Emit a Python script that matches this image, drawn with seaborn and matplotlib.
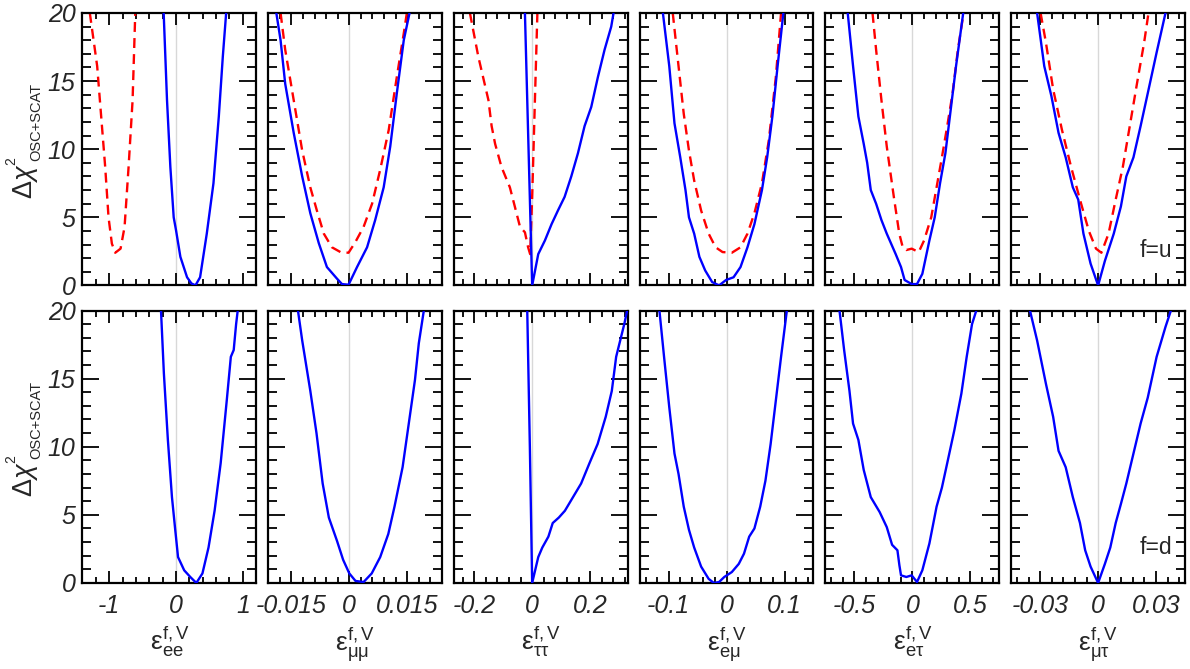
import matplotlib
matplotlib.use("Agg")
import matplotlib.pyplot as plt
import matplotlib.transforms as mtransforms
import seaborn as sns
from matplotlib.ticker import MultipleLocator

# ---------------- data ----------------
xlabels = [r'$\mathrm{\varepsilon}^{\mathrm{f,V}}_{\mathrm{ee}}$',
           r'$\mathrm{\varepsilon}^{\mathrm{f,V}}_{\mathrm{\mu\mu}}$',
           r'$\mathrm{\varepsilon}^{\mathrm{f,V}}_{\mathrm{\tau\tau}}$',
           r'$\mathrm{\varepsilon}^{\mathrm{f,V}}_{\mathrm{e\mu}}$',
           r'$\mathrm{\varepsilon}^{\mathrm{f,V}}_{\mathrm{e\tau}}$',
           r'$\mathrm{\varepsilon}^{\mathrm{f,V}}_{\mathrm{\mu\tau}}$']
ylabel_main = r'$\Delta\chi$'
ylabel_sup = '2'
ylabel_sub = 'OSC+SCAT'
row_tags = ['f=u', 'f=d']

xlim_lo = [-1.4, -0.021, -0.27, -0.15, -0.75, -0.045]
xlim_hi = [1.2, 0.024, 0.33, 0.15, 0.75, 0.045]
major_ticks = [[-1, 0, 1], [-0.015, 0, 0.015], [-0.2, 0, 0.2],
               [-0.1, 0, 0.1], [-0.5, 0, 0.5], [-0.03, 0, 0.03]]
major_labels = [['-1', '0', '1'], ['-0.015', '0', '0.015'], ['-0.2', '0', '0.2'],
                ['-0.1', '0', '0.1'], ['-0.5', '0', '0.5'], ['-0.03', '0', '0.03']]
minor_steps = [0.2, 0.003, 0.04, 0.02, 0.1, 0.006]
y_ticks = [0, 5, 10, 15, 20]
y_ticklabels = ['0', '5', '10', '15', '20']

# f = u, solid (blue) curves
u_ee_x = [-0.185, -0.135, -0.085, -0.035, 0.0, 0.065, 0.165, 0.23, 0.29, 0.36, 0.46, 0.56, 0.64, 0.70, 0.75]
u_ee_y = [20, 13.6, 8.7, 5.0, 4.05, 2.1, 0.6, 0.15, 0.0, 0.6, 3.8, 7.5, 12.4, 16.8, 20]
u_mumu_x = [-0.0189, -0.0178, -0.0166, -0.0144, -0.0122, -0.0101, -0.0079, -0.0058, -0.0032, -0.0019,
            -0.0002, 0.0020, 0.0046, 0.0067, 0.0089, 0.0106, 0.0123, 0.0141, 0.0156]
u_mumu_y = [20, 18.0, 14.8, 11.2, 8.0, 5.3, 3.1, 1.35, 0.5, 0.1, 0.05, 1.35, 2.8, 4.8, 7.2, 10.2, 14.1, 18.0, 20]
u_tautau_x = [-0.025, -0.0125, 0.0, 0.021, 0.044, 0.067, 0.089, 0.112, 0.135, 0.158, 0.181, 0.204,
              0.227, 0.250, 0.273, 0.281]
u_tautau_y = [20, 10, 0, 2.3, 3.3, 4.5, 5.5, 6.5, 8.0, 9.7, 11.7, 13.1, 15.3, 17.3, 19.0, 20]
u_emu_x = [-0.110, -0.099, -0.090, -0.080, -0.071, -0.065, -0.056, -0.047, -0.037, -0.025, -0.013,
           -0.001, 0.012, 0.024, 0.036, 0.048, 0.061, 0.070, 0.079, 0.088, 0.098]
u_emu_y = [20, 16.1, 11.9, 9.4, 7.0, 5.0, 3.8, 2.1, 1.1, 0.25, 0.0, 0.4, 0.6, 1.35, 2.8, 4.5, 7.0,
           9.4, 12.4, 16.1, 20]
u_etau_x = [-0.558, -0.512, -0.466, -0.420, -0.390, -0.359, -0.313, -0.267, -0.221, -0.144, -0.098,
            -0.067, -0.006, 0.040, 0.086, 0.147, 0.193, 0.239, 0.285, 0.331, 0.377, 0.439]
u_etau_y = [20, 16.1, 12.4, 10.4, 9.0, 7.0, 6.0, 4.8, 3.8, 2.3, 1.35, 0.4, 0.1, 0.1, 0.85, 3.3, 5.0,
            7.5, 9.7, 12.9, 16.1, 20]
u_mutau_x = [-0.0316, -0.0279, -0.0242, -0.0205, -0.0168, -0.0131, -0.0103, -0.0076, -0.0039, 0.0,
             0.0035, 0.0081, 0.0118, 0.0146, 0.0183, 0.0220, 0.0257, 0.0303, 0.0349]
u_mutau_y = [20, 16.1, 13.9, 11.2, 9.4, 7.2, 6.3, 3.8, 1.6, 0.0, 1.8, 3.8, 5.8, 8.0, 9.4, 11.7, 14.1,
             17.1, 20]

# f = u, dashed (red) curves
u_ee_dark_x = [-1.29, -1.18, -1.06, -1.01, -0.96, -0.91, -0.83, -0.77, -0.71, -0.65, -0.61]
u_ee_dark_y = [20, 16.1, 8.7, 5.0, 3.07, 2.4, 2.7, 4.3, 8.7, 13.6, 20]
u_mumu_dark_x = [-0.0178, -0.0166, -0.0144, -0.0122, -0.0101, -0.0084, -0.0066, -0.0045, -0.0023,
                 -0.0002, 0.0016, 0.0037, 0.0059, 0.0080, 0.0102, 0.0123, 0.0141, 0.0149]
u_mumu_dark_y = [20, 17.3, 13.6, 9.9, 7.2, 5.5, 3.8, 2.8, 2.45, 2.4, 3.2, 4.3, 6.0, 8.5, 11.4, 15.3,
                 18.5, 20]
u_tautau_dark_x = [-0.215, -0.186, -0.151, -0.140, -0.128, -0.106, -0.077, -0.060, -0.042, -0.025,
                   -0.014, -0.007, 0.0, 0.006, 0.012, 0.018]
u_tautau_dark_y = [20, 16.8, 13.6, 11.7, 10.4, 8.7, 7.2, 5.8, 4.3, 3.9, 2.8, 2.3, 6.5, 11.0, 15.5, 20]
u_emu_dark_x = [-0.093, -0.083, -0.074, -0.065, -0.056, -0.044, -0.031, -0.019, -0.007, 0.009, 0.024,
                0.036, 0.048, 0.061, 0.073, 0.085, 0.094]
u_emu_dark_y = [20, 16.1, 12.6, 9.9, 7.7, 5.5, 3.8, 2.8, 2.45, 2.4, 2.8, 3.8, 5.3, 7.5, 10.7, 15.3, 20]
u_etau_dark_x = [-0.344, -0.313, -0.267, -0.221, -0.160, -0.113, -0.083, -0.052, -0.006, 0.055, 0.101,
                 0.163, 0.209, 0.255, 0.301, 0.347, 0.393, 0.442]
u_etau_dark_y = [20, 17.3, 13.6, 10.2, 6.5, 3.8, 2.8, 2.6, 2.7, 2.45, 3.3, 5.0, 7.2, 9.4, 11.7, 14.1,
                 17.3, 20]
u_mutau_dark_x = [-0.0298, -0.0270, -0.0233, -0.0187, -0.0140, -0.0094, -0.0048, -0.0011, 0.0017,
                  0.0054, 0.0091, 0.0128, 0.0164, 0.0201, 0.0238, 0.0261]
u_mutau_dark_y = [20, 17.8, 14.4, 11.4, 8.7, 6.3, 4.0, 2.7, 2.4, 3.8, 6.3, 8.7, 11.7, 14.8, 17.8, 20]

# f = d, solid (blue) curves
d_ee_x = [-0.225, -0.182, -0.122, -0.061, -0.012, 0.030, 0.122, 0.213, 0.304, 0.395, 0.486, 0.577,
          0.668, 0.759, 0.820, 0.863, 0.899, 0.923]
d_ee_y = [20, 15.4, 10.5, 6.3, 3.9, 1.9, 0.93, 0.44, 0.0, 0.7, 2.6, 5.3, 8.8, 13.4, 16.6, 17.1, 19.0, 20]
d_mumu_x = [-0.0133, -0.0122, -0.0101, -0.0085, -0.0069, -0.0053, -0.0032, -0.0016, 0.0, 0.0016,
            0.0037, 0.0058, 0.0080, 0.0101, 0.0117, 0.0138, 0.0154, 0.0170, 0.0180, 0.0193]
d_mumu_y = [20, 17.8, 14.1, 11.0, 7.3, 4.8, 3.1, 1.7, 0.7, 0.15, 0.07, 0.7, 1.9, 3.6, 5.6, 8.5, 11.7,
            14.9, 17.6, 20]
d_tautau_x = [-0.017, -0.008, 0.0, 0.021, 0.035, 0.056, 0.071, 0.092, 0.113, 0.141, 0.169, 0.198,
              0.226, 0.254, 0.275, 0.290, 0.304, 0.318, 0.328]
d_tautau_y = [20, 10, 0, 1.9, 2.6, 3.4, 4.4, 4.8, 5.3, 6.3, 7.3, 8.8, 10.2, 12.2, 14.1, 16.6, 17.8,
              19.0, 20]
d_emu_x = [-0.116, -0.108, -0.099, -0.090, -0.083, -0.074, -0.065, -0.056, -0.044, -0.031, -0.022,
           -0.013, -0.004, 0.009, 0.021, 0.030, 0.039, 0.048, 0.058, 0.067, 0.076, 0.085, 0.094, 0.104]
d_emu_y = [20, 16.6, 12.9, 9.5, 8.0, 5.6, 3.9, 2.6, 1.2, 0.3, 0.0, 0.07, 0.44, 0.8, 1.4, 2.15, 3.4,
           4.0, 5.6, 7.5, 10.2, 13.4, 16.6, 20]
d_etau_x = [-0.629, -0.589, -0.543, -0.512, -0.466, -0.420, -0.359, -0.282, -0.221, -0.175, -0.129,
            -0.112, -0.098, -0.052, -0.006, 0.040, 0.086, 0.147, 0.209, 0.255, 0.301, 0.362, 0.423,
            0.469, 0.515, 0.552]
d_etau_y = [20, 17.1, 14.1, 11.7, 10.5, 8.3, 6.3, 5.2, 4.1, 2.8, 2.4, 1.3, 0.56, 0.44, 0.56, 0.07,
            0.93, 2.9, 5.6, 7.0, 8.8, 11.2, 13.9, 16.6, 19.0, 20]
d_mutau_x = [-0.0353, -0.0316, -0.0270, -0.0233, -0.0205, -0.0168, -0.0131, -0.0094, -0.0067, -0.0039,
             0.0, 0.0035, 0.0063, 0.0091, 0.0118, 0.0146, 0.0183, 0.0220, 0.0257, 0.0303, 0.0349, 0.0377]
d_mutau_y = [20, 17.8, 14.6, 12.2, 9.7, 8.5, 6.3, 4.4, 2.4, 1.2, 0.0, 1.4, 2.6, 4.4, 5.8, 7.3, 9.5,
             11.7, 13.6, 16.6, 18.8, 20]

solid_curves = [
    [(u_ee_x, u_ee_y), (u_mumu_x, u_mumu_y), (u_tautau_x, u_tautau_y),
     (u_emu_x, u_emu_y), (u_etau_x, u_etau_y), (u_mutau_x, u_mutau_y)],
    [(d_ee_x, d_ee_y), (d_mumu_x, d_mumu_y), (d_tautau_x, d_tautau_y),
     (d_emu_x, d_emu_y), (d_etau_x, d_etau_y), (d_mutau_x, d_mutau_y)],
]
dashed_curves = [
    [(u_ee_dark_x, u_ee_dark_y), (u_mumu_dark_x, u_mumu_dark_y), (u_tautau_dark_x, u_tautau_dark_y),
     (u_emu_dark_x, u_emu_dark_y), (u_etau_dark_x, u_etau_dark_y), (u_mutau_dark_x, u_mutau_dark_y)],
    None,
]

# ---------------- style ----------------
sns.set_style("ticks")
plt.rcParams['font.family'] = ['Liberation Sans', 'DejaVu Sans']
plt.rcParams['axes.unicode_minus'] = False
plt.rcParams['mathtext.fontset'] = 'custom'
plt.rcParams['mathtext.rm'] = 'Liberation Sans'
plt.rcParams['mathtext.it'] = 'Liberation Sans:italic'
plt.rcParams['mathtext.bf'] = 'Liberation Sans:bold'

BLUE = '#0000ff'
RED = '#ff0000'

fig, axes = plt.subplots(2, 6, figsize=(11.9, 6.69), dpi=100)
fig.subplots_adjust(left=0.0693, right=0.9958, top=0.9806, bottom=0.1286,
                    wspace=0.069, hspace=0.092)


def px_offset(ax, dx, dy):
    """axes-fraction anchor shifted by (dx, dy) pixels at 100 dpi."""
    return ax.transAxes + mtransforms.ScaledTranslation(dx / 100.0, dy / 100.0, fig.dpi_scale_trans)


for r in range(2):
    for c in range(6):
        ax = axes[r, c]
        ax.axvline(0, color='#d8d8d8', lw=1.0, zorder=0)
        if dashed_curves[r] is not None:
            dx, dy = dashed_curves[r][c]
            sns.lineplot(x=dx, y=dy, ax=ax, color=RED, lw=1.7, sort=False,
                         estimator=None, linestyle=(0, (4.2, 2.6)), zorder=2)
        sx, sy = solid_curves[r][c]
        sns.lineplot(x=sx, y=sy, ax=ax, color=BLUE, lw=1.7, sort=False,
                     estimator=None, zorder=3)

        ax.set_xlim(xlim_lo[c], xlim_hi[c])
        ax.set_ylim(0, 20)
        ax.set_xticks(major_ticks[c])
        ax.xaxis.set_minor_locator(MultipleLocator(minor_steps[c]))
        ax.set_yticks(y_ticks)
        ax.yaxis.set_minor_locator(MultipleLocator(1))
        for s in ax.spines.values():
            s.set_linewidth(1.6)
            s.set_color('black')
        ax.tick_params(which='both', direction='in', top=True, right=True,
                       width=1.3, color='black')
        ax.tick_params(axis='y', which='major', length=12.5, pad=5)
        ax.tick_params(axis='y', which='minor', length=6.5)
        ax.tick_params(axis='x', which='major', length=8.5, pad=8)
        ax.tick_params(axis='x', which='minor', length=4.5)
        ax.set_ylabel('')

        if r == 1:
            ax.set_xticklabels(major_labels[c], fontsize=18, fontstyle='italic')
            ax.set_xlabel(xlabels[c], fontsize=19)
            ax.xaxis.set_label_coords(0.5, -0.155)
            ax.xaxis.label.set_verticalalignment('top')
        else:
            ax.set_xticklabels([])
            ax.set_xlabel('')
        if c == 0:
            ax.set_yticklabels(y_ticklabels, fontsize=18, fontstyle='italic')
            # composed y label: Δχ with superscript 2 and subscript OSC+SCAT
            ax.text(0, 0.5, ylabel_main, transform=px_offset(ax, -50, -50), rotation=90,
                    rotation_mode='anchor', ha='left', va='baseline', fontsize=19.5)
            ax.text(0, 0.5, ylabel_sub, transform=px_offset(ax, -42.5, -12), rotation=90,
                    rotation_mode='anchor', ha='left', va='baseline', fontsize=10.5)
            ax.text(0, 0.5, ylabel_sup, transform=px_offset(ax, -67.5, -16), rotation=90,
                    rotation_mode='anchor', ha='left', va='baseline', fontsize=10)
        else:
            ax.set_yticklabels([])
        if c == 5:
            ax.text(0.925, 0.105, row_tags[r], transform=ax.transAxes, ha='right',
                    va='baseline', fontsize=16.5)

fig.savefig('out.png', dpi=100)
